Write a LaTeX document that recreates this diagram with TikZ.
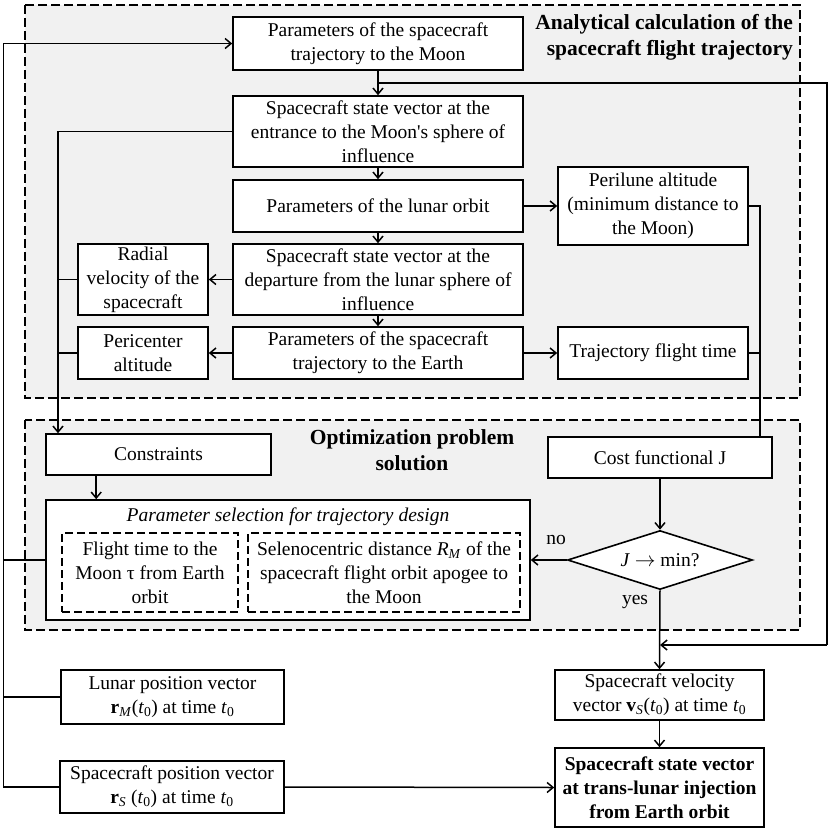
\documentclass[tikz,border=0pt]{standalone}
\usepackage{fontspec}
\setmainfont{Liberation Serif}[Ligatures=TeXOff]
\usetikzlibrary{arrows.meta,shapes.geometric,calc}
\definecolor{bg}{RGB}{241,241,241}
\newcommand{\myfs}{\fontsize{19.5}{24}\selectfont}
\newcommand{\myfb}{\fontsize{21.5}{26}\selectfont\bfseries}
\tikzset{
 box/.style={draw, line width=1.6pt, fill=white, align=center, inner sep=1pt, font=\myfs},
 region/.style={draw, dash pattern=on 9pt off 4pt, line width=1.4pt, fill=bg},
 ibox/.style={draw, dash pattern=on 8pt off 4pt, line width=1.4pt, align=center, inner sep=1pt, font=\myfs},
 conn/.style={line width=1.5pt},
 arr/.style={conn, -{Straight Barb[length=6pt,width=10pt,line width=1.5pt]}},
 lbl/.style={font=\myfs, inner sep=0pt},
 ttl/.style={font=\myfb, inner sep=0pt},
}
\begin{document}
\begin{tikzpicture}[x=1pt,y=-1pt]
\useasboundingbox (0,0) rectangle (832,833);
% regions
\path[region] (25,5) rectangle (800,398);
\path[region] (25,420) rectangle (800,630);
% titles
\node[ttl, align=right, anchor=north east] (t1) at (793,14) {Analytical calculation of the\\spacecraft flight trajectory};
\node[ttl, align=center, anchor=north] (t2) at (412,429) {Optimization problem\\solution};
% analytical nodes
\node[box, minimum width=290pt, minimum height=53pt] (n1) at (378,43.5) {Parameters of the spacecraft\\trajectory to the Moon};
\node[box, minimum width=290pt, minimum height=71pt] (n2) at (378,131.5) {Spacecraft state vector at the\\entrance to the Moon's sphere of\\influence};
\node[box, minimum width=290pt, minimum height=52pt] (n3) at (378,206) {Parameters of the lunar orbit};
\node[box, minimum width=290pt, minimum height=71pt] (n4) at (378,279.5) {Spacecraft state vector at the\\departure from the lunar sphere of\\influence};
\node[box, minimum width=290pt, minimum height=52pt] (n5) at (378,353) {Parameters of the spacecraft\\trajectory to the Earth};
\node[box, minimum width=130pt, minimum height=71pt] (radial) at (143,279.5) {Radial\\velocity of the\\spacecraft};
\node[box, minimum width=130pt, minimum height=52pt] (peric) at (143,353) {Pericenter\\altitude};
\node[box, minimum width=190pt, minimum height=78pt] (peril) at (653,206) {Perilune altitude\\(minimum distance to\\the Moon)};
\node[box, minimum width=190pt, minimum height=52pt] (traj) at (653,353) {Trajectory flight time};
% optimization nodes
\node[box, minimum width=225pt, minimum height=41pt] (cons) at (158.5,454.5) {Constraints};
\node[box, minimum width=224pt, minimum height=41pt] (cost) at (660,457.5) {Cost functional J};
\node[box, minimum width=484pt, minimum height=120pt] (psel) at (288,560) {};
\node[lbl, font=\myfs\itshape] (ptitle) at (288,517) {Parameter selection for trajectory design};
\node[ibox, minimum width=176pt, minimum height=79pt] (pa) at (150,572.5) {Flight time to the\\Moon τ from Earth\\orbit};
\node[ibox, minimum width=272pt, minimum height=79pt] (pb) at (384,572.5) {Selenocentric distance \textit{R}\textsubscript{\textit{M}} of the\\spacecraft flight orbit apogee to\\the Moon};
\node[box, shape=diamond, aspect=3.1, inner sep=0pt, minimum width=185pt, minimum height=59pt] (dia) at (660,560) {\textit{J} $\rightarrow$ min?};
\node[lbl] (no) at (556,540) {no};
\node[lbl] (yes) at (635,602) {yes};
% bottom nodes
\node[box, minimum width=223pt, minimum height=54pt] (lunar) at (172.5,697) {Lunar position vector\\\textbf{r}\textsubscript{\textit{M}}(\textit{t}\textsubscript{0}) at time \textit{t}\textsubscript{0}};
\node[box, minimum width=224pt, minimum height=52pt] (scpos) at (172,787) {Spacecraft position vector\\\textbf{r}\textsubscript{\textit{S}} (\textit{t}\textsubscript{0}) at time \textit{t}\textsubscript{0}};
\node[box, minimum width=209pt, minimum height=50pt] (vel) at (659.5,695) {Spacecraft velocity\\vector \textbf{v}\textsubscript{\textit{S}}(\textit{t}\textsubscript{0}) at time \textit{t}\textsubscript{0}};
\node[box, minimum width=209pt, minimum height=79pt, font=\myfs\bfseries] (fin) at (659.5,787.5) {Spacecraft state vector\\at trans-lunar injection\\from Earth orbit};
% connectors
\coordinate (br) at (378,83);
\coordinate (rc) at (827,645);
\coordinate (lx) at (58,0);
\coordinate (rx) at (760,0);
\coordinate (ox) at (3.5,0);
\coordinate (cx) at ([xshift=51pt]cons.south west);
\draw[arr] (n1.south) -- (n2.north);
\draw[conn] (br) -- (br -| rc) -- (rc);
\draw[arr] (rc) -- (rc -| dia.south);
\draw[arr] (n2.south) -- (n3.north);
\draw[arr] (n3.south) -- (n4.north);
\draw[arr] (n4.south) -- (n5.north);
\draw[arr] (n3.east) -- (peril.west);
\draw[arr] (n4.west) -- (radial.east);
\draw[arr] (n5.west) -- (peric.east);
\draw[arr] (n5.east) -- (traj.west);
\draw[arr] (n2.west) -- (n2.west -| lx) -- (lx |- cons.north);
\draw[conn] (radial.west) -- (radial.west -| lx);
\draw[conn] (peric.west) -- (peric.west -| lx);
\draw[conn] (peril.east) -- (peril.east -| rx) -- (rx |- cost.north);
\draw[conn] (traj.east) -- (traj.east -| rx);
\draw[arr] (cx) -- (cx |- psel.north);
\draw[arr] (cost.south) -- (dia.north);
\draw[arr] (dia.west) -- (psel.east);
\draw[arr] (dia.south) -- (vel.north);
\draw[arr] (vel.south) -- (fin.north);
\draw[arr] (scpos.east) -- (fin.west);
\draw[arr] (scpos.west) -- (scpos.west -| ox) -- (ox |- n1.west) -- (n1.west);
\draw[conn] (psel.west) -- (psel.west -| ox);
\draw[conn] (lunar.west) -- (lunar.west -| ox);
\end{tikzpicture}
\end{document}
